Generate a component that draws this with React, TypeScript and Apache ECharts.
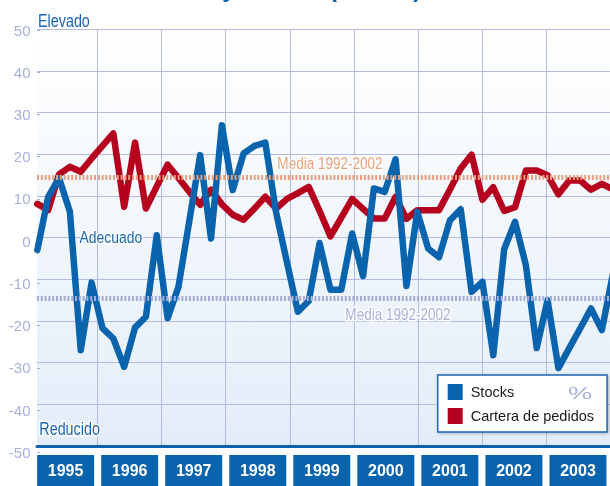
import React, { useEffect, useRef } from "react";
import * as echarts from "echarts";

// Bimonthly observations, 1995 – 2003 (balance, %)
const stocks: number[] = [
  -3, 9.8, 14.3, 6.2, -27, -10.8,
  -21.7, -24.2, -31, -21.6, -19, 0.6,
  -19.3, -11.8, 4, 19.8, -0.2, 27,
  11.4, 20.2, 22, 22.8, 6, -6,
  -17.8, -15.2, -1.3, -12.5, -12.5, 1,
  -9.2, 11.8, 11, 18.8, -11.6, 6.2,
  -2.6, -4.7, 4.1, 6.8, -13, -10.6,
  -28.2, -2.8, 3.8, -6.6, -26.5, -15,
  -31.3, -26.5, -21.8, -17, -22.2, -9,
];
const cartera: number[] = [
  8.1, 6.6, 15.2, 17, 15.8, 19,
  22, 25, 7.4, 22.8, 7, 12.3,
  17.5, 14.3, 11, 7.9, 11.5, 8,
  5.5, 4.3, 7, 9.8, 7, 9.3,
  10.7, 12.2, 6.4, 0.3, 4.8, 9.3,
  6.9, 4.6, 4.6, 9.8, 4.5, 6.6,
  6.6, 6.6, 11.5, 16.6, 19.9, 9.1,
  12.1, 6.4, 7.3, 16.1, 16.1, 15,
  10.4, 13.7, 13.7, 11.5, 12.9, 11.6,
];
const years: string[] = ["1995", "1996", "1997", "1998", "1999", "2000", "2001", "2002", "2003"];
const mediaCartera = 14.6;
const mediaStocks = -14.5;
const seriesNames: string[] = ["Stocks", "Cartera de pedidos"];

const BLUE = "#0a63ad";
const RED = "#b5001e";
const GRID = "#b3bbe3";
const LAB = "#a6b0da";
const SANS = "'Liberation Sans', Arial, sans-serif";

function textEl(text: string, x: number, y: number, size: number, color: string, opts: any = {}) {
  return {
    type: "text",
    x,
    y,
    z: 50,
    silent: true,
    scaleX: opts.scaleX ?? 0.82,
    style: {
      text,
      fill: color,
      fontSize: size,
      fontFamily: SANS,
      fontWeight: opts.weight || "normal",
      stroke: opts.halo === false ? undefined : "#ffffff",
      lineWidth: opts.halo === false ? 0 : 3,
      align: opts.align || "left",
      textAlign: opts.align || "left",
      verticalAlign: "middle",
      textVerticalAlign: "middle",
    },
  };
}

export default function App() {
  const ref = useRef<HTMLDivElement>(null);
  useEffect(() => {
    if (!ref.current) return;
    const chart = echarts.init(ref.current, null, { renderer: "svg" });
    const toXY = (arr: number[]) => arr.map((v, i) => [i, v]);
    const option: any = {
      animation: false,
      grid: [
        {
          left: 37, top: 29.3, width: 573, height: 416.7, show: true, borderWidth: 0,
          backgroundColor: new echarts.graphic.LinearGradient(0, 0, 0, 1, [
            { offset: 0, color: "#ffffff" },
            { offset: 1, color: "#e3edf9" },
          ]),
        },
        { left: 33.6, top: 29.3, width: 592.2, height: 416.7 },
        { left: 37, top: 30, width: 573, height: 422.3 },
      ],
      xAxis: [
        {
          gridIndex: 0, type: "value", min: -0.03, max: 52.75,
          axisLine: { show: true, onZero: false, lineStyle: { color: BLUE, width: 3 } },
          axisTick: { show: false }, axisLabel: { show: false }, splitLine: { show: false },
        },
        {
          gridIndex: 1, type: "category", data: years, boundaryGap: true,
          axisLine: { show: false }, axisTick: { show: false },
          splitLine: { show: true, interval: 0, showMinLine: false, showMaxLine: false, lineStyle: { color: GRID, width: 1 } },
          axisLabel: {
            interval: 0, margin: 9, color: "#ffffff", fontFamily: SANS, fontWeight: "bold",
            fontSize: 16, backgroundColor: BLUE, width: 57, height: 31, lineHeight: 31,
            align: "center", verticalAlign: "top", padding: 0, hideOverlap: false,
          },
        },
        { gridIndex: 2, type: "value", show: false, min: 0, max: 1 },
      ],
      yAxis: [
        {
          gridIndex: 0, type: "value", min: -50, max: 50, interval: 10,
          axisLine: { show: false }, axisTick: { show: false }, axisLabel: { show: false },
          splitLine: { show: true, lineStyle: { color: GRID, width: 1 } },
        },
        { gridIndex: 1, type: "value", show: false },
        {
          gridIndex: 2, type: "value", min: -50, max: 50, interval: 10,
          axisLine: { show: false },
          axisTick: { show: true, inside: true, length: 3, lineStyle: { color: LAB } },
          splitLine: { show: false },
          axisLabel: { color: LAB, fontSize: 15, fontFamily: SANS, margin: 6.5 },
        },
      ],
      legend: {
        data: seriesNames,
        orient: "vertical",
        left: 437.7,
        top: 375,
        icon: "rect",
        itemWidth: 15,
        itemHeight: 16,
        itemGap: 8,
        padding: [9, 13, 8, 10],
        backgroundColor: "#ffffff",
        borderColor: "#1a66b0",
        borderWidth: 1.5,
        borderRadius: 0,
        shadowColor: "rgba(0,0,0,0.25)",
        shadowBlur: 3,
        shadowOffsetX: 1,
        shadowOffsetY: 1,
        selectedMode: false,
        itemStyle: { borderWidth: 0 },
        textStyle: { color: "#1a1a1a", fontFamily: SANS, fontSize: 14.5, padding: [0, 0, 0, 3] },
      },
      series: [
        {
          type: "line", xAxisIndex: 0, yAxisIndex: 0, data: [], z: 1, silent: true,
          markLine: {
            silent: true, symbol: "none", label: { show: false },
            data: [
              { yAxis: mediaCartera, lineStyle: { color: "#e8a07c", width: 5, type: [2, 1.8] } },
              { yAxis: mediaStocks, lineStyle: { color: "#a4acd8", width: 5, type: [2, 1.8] } },
            ],
          },
        },
        {
          name: seriesNames[1], type: "line", xAxisIndex: 0, yAxisIndex: 0,
          data: toXY(cartera), showSymbol: false, z: 3, color: RED,
          itemStyle: { color: RED },
          lineStyle: { color: RED, width: 6.5, cap: "round", join: "round" },
        },
        {
          name: seriesNames[0], type: "line", xAxisIndex: 0, yAxisIndex: 0,
          data: toXY(stocks), showSymbol: false, z: 4, color: BLUE,
          itemStyle: { color: BLUE },
          lineStyle: { color: BLUE, width: 6.5, cap: "round", join: "round" },
        },
      ],
      graphic: [
        textEl("Stocks y cartera (saldos)", 137, -12, 24, BLUE, { weight: "bold", halo: false, scaleX: 1 }),
        textEl("Elevado", 38, 21, 17.5, "#1a64ae"),
        textEl("Adecuado", 79.5, 236.5, 17, "#1a64ae"),
        textEl("Reducido", 39.3, 429, 17.5, "#1a64ae"),
        textEl("Media 1992-2002", 330, 163, 16.5, "#e8a27c", { align: "center" }),
        textEl("Media 1992-2002", 398, 313.5, 16.5, "#a9b0dc", { align: "center" }),
        textEl("%", 568, 393, 17, LAB, { halo: false, scaleX: 1.6 }),
      ],
    };
    chart.setOption(option);
    return () => chart.dispose();
  }, []);
  return <div ref={ref} style={{ position: "fixed", left: 0, top: 0, width: 610, height: 486 }} />;
}
